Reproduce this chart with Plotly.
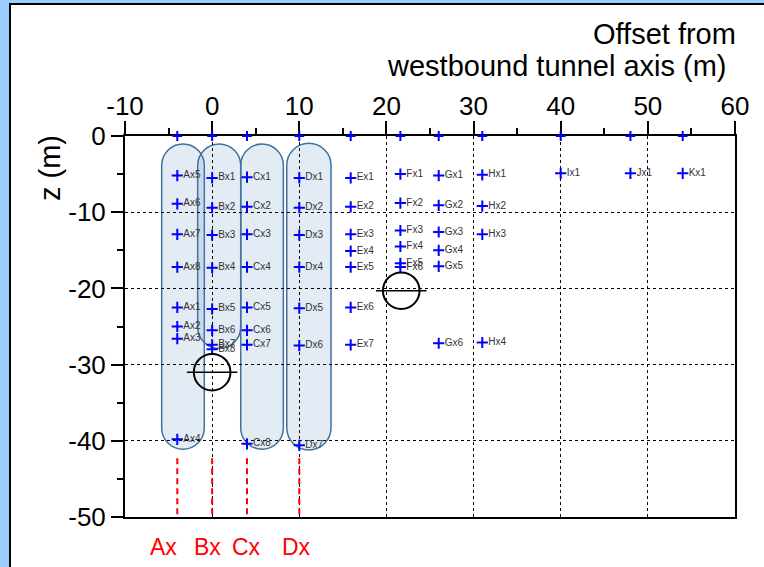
import plotly.graph_objects as go

# ---- borehole sensor layout (offset in m, depth z in m) ----
borehole_names = ["Ax", "Bx", "Cx", "Dx", "Ex", "Fx", "Gx", "Hx", "Ix", "Jx", "Kx"]
borehole_x = [-4.0, 0.0, 4.0, 10.0, 15.9, 21.6, 26.0, 31.0, 40.0, 48.0, 54.0]
sensor_ids = [
    [5, 6, 7, 8, 1, 2, 3, 4],
    [1, 2, 3, 4, 5, 6, 7, 8],
    [1, 2, 3, 4, 5, 6, 7, 8],
    [1, 2, 3, 4, 5, 6, 7],
    [1, 2, 3, 4, 5, 6, 7],
    [1, 2, 3, 4, 5, 6],
    [1, 2, 3, 4, 5, 6],
    [1, 2, 3, 4],
    [1],
    [1],
    [1],
]
sensor_z = [
    [-5.2, -8.9, -12.9, -17.2, -22.5, -25.0, -26.6, -39.8],
    [-5.5, -9.4, -13.0, -17.3, -22.7, -25.5, -27.4, -28.0],
    [-5.4, -9.3, -12.9, -17.2, -22.5, -25.5, -27.4, -40.4],
    [-5.5, -9.4, -13.0, -17.2, -22.6, -27.5, -40.6],
    [-5.5, -9.3, -12.9, -15.1, -17.2, -22.5, -27.4],
    [-5.0, -8.8, -12.4, -14.5, -16.7, -17.2],
    [-5.2, -9.1, -12.6, -15.0, -17.1, -27.2],
    [-5.1, -9.2, -12.9, -27.1],
    [-4.9],
    [-4.9],
    [-4.9],
]

# axis ticks (plain hyphen minus in the labels)
x_tick_vals = [-10, 0, 10, 20, 30, 40, 50, 60]
x_tick_text = ["-10", "0", "10", "20", "30", "40", "50", "60"]
y_tick_vals = [0, -10, -20, -30, -40, -50]
y_tick_text = ["0", "-10", "-20", "-30", "-40", "-50"]

# tunnels (centre offset, centre depth, radius along offset axis)
tunnel_x = [0.0, 21.7]
tunnel_z = [-31.0, -20.3]
tunnel_r = [2.1, 2.1]
tunnel_bar = [2.9, 2.9]

# inclinometer groups: extents of the shaded envelopes (m)
group_names = ["Ax", "Bx", "Cx", "Dx"]
group_line_x = [-4.0, 0.0, 4.0, 10.0]
group_left = [-5.79, -1.66, 3.28, 8.56]
group_right = [-0.90, 3.28, 8.17, 13.64]
group_top = [-1.05, -1.05, -1.05, -0.95]
group_bottom = [-41.1, -27.9, -41.1, -41.2]
group_line_top = -42.3

# ---- geometry of the figure ----
W, H = 764, 567
ML, MR, MT, MB = 125, 29, 136, 50
XR = [-10, 60]
YR = [-50, 0]
px_per_x = (W - ML - MR) / (XR[1] - XR[0])
px_per_y = (H - MT - MB) / (YR[1] - YR[0])
FONT = "Liberation Sans, Arial, sans-serif"
BLUE = "#0000FF"

fig = go.Figure()

# sensors with labels
for name, x, ids, zs in zip(borehole_names, borehole_x, sensor_ids, sensor_z):
    fig.add_trace(go.Scatter(
        x=[x] * len(zs), y=zs, mode="markers+text",
        text=[f"{name}{i}" for i in ids], textposition="middle right",
        textfont=dict(family=FONT, size=10, color="#333333"),
        marker=dict(symbol="cross-thin", size=8, line=dict(color=BLUE, width=2)),
        cliponaxis=False, hoverinfo="skip", showlegend=False,
    ))

# borehole heads at the surface
fig.add_trace(go.Scatter(
    x=borehole_x, y=[0] * len(borehole_x), mode="markers",
    marker=dict(symbol="cross-thin", size=7, line=dict(color=BLUE, width=2)),
    cliponaxis=False, hoverinfo="skip", showlegend=False,
))

shapes = []

# white panel framed in black over the blue page
shapes.append(dict(
    type="rect", xref="paper", yref="paper", layer="below",
    x0=(10 - ML) / (W - ML - MR), x1=1.3,
    y0=-0.4, y1=(H - MB - 4) / (H - MT - MB),
    fillcolor="white", line=dict(color="black", width=2),
))

# rounded envelopes around the inclinometer groups
k = 0.5523
for xl, xr, zt, zb in zip(group_left, group_right, group_top, group_bottom):
    rx = (xr - xl) / 2
    ry = rx * px_per_x / px_per_y
    xc = (xl + xr) / 2
    a = zt - ry
    b = zb + ry
    path = (
        f"M {xl},{b} L {xl},{a} "
        f"C {xl},{a + k * ry} {xc - k * rx},{zt} {xc},{zt} "
        f"C {xc + k * rx},{zt} {xr},{a + k * ry} {xr},{a} "
        f"L {xr},{b} "
        f"C {xr},{b - k * ry} {xc + k * rx},{zb} {xc},{zb} "
        f"C {xc - k * rx},{zb} {xl},{b - k * ry} {xl},{b} Z"
    )
    shapes.append(dict(
        type="path", xref="x", yref="y", path=path, layer="below",
        fillcolor="rgba(79,129,189,0.16)",
        line=dict(color="#41719C", width=1.5),
    ))

# tunnels
for tx, tz, tr, tb in zip(tunnel_x, tunnel_z, tunnel_r, tunnel_bar):
    ry = tr * px_per_x / px_per_y
    shapes.append(dict(
        type="circle", xref="x", yref="y",
        x0=tx - tr, x1=tx + tr, y0=tz - ry, y1=tz + ry,
        line=dict(color="black", width=2),
    ))
    shapes.append(dict(
        type="line", xref="x", yref="y",
        x0=tx - tb, x1=tx + tb, y0=tz, y1=tz,
        line=dict(color="black", width=1.5),
    ))

# red dashed group markers under the envelopes
for gx in group_line_x:
    shapes.append(dict(
        type="line", xref="x", yref="y",
        x0=gx, x1=gx, y0=group_line_top, y1=YR[0],
        line=dict(color="red", width=2, dash="6px,4px"),
    ))

annotations = []
label_shift = [-14, -5, -1, -3]
for gname, gx, sh in zip(group_names, group_line_x, label_shift):
    annotations.append(dict(
        text=gname, xref="x", yref="paper", x=gx, xshift=sh,
        y=(H - MB - 547) / (H - MT - MB), xanchor="center", yanchor="middle",
        showarrow=False, font=dict(family=FONT, size=23, color="red"),
    ))

annotations.append(dict(
    text="Offset from", xref="paper", yref="paper",
    x=(738 - ML) / (W - ML - MR), y=(H - MB - 34) / (H - MT - MB),
    xanchor="right", yanchor="middle", showarrow=False,
    font=dict(family=FONT, size=29, color="black"),
))
annotations.append(dict(
    text="westbound tunnel axis (m)", xref="paper", yref="paper",
    x=(729 - ML) / (W - ML - MR), y=(H - MB - 66) / (H - MT - MB),
    xanchor="right", yanchor="middle", showarrow=False,
    font=dict(family=FONT, size=29, color="black"),
))
annotations.append(dict(
    text="z (m)", xref="paper", yref="paper", textangle=-90,
    x=(50 - ML) / (W - ML - MR), y=(H - MB - 168) / (H - MT - MB),
    xanchor="center", yanchor="middle", showarrow=False,
    font=dict(family=FONT, size=29, color="black"),
))

axis_common = dict(
    ticks="outside", tickwidth=2, tickcolor="black",
    showline=True, linewidth=2, linecolor="black", mirror=True,
    showgrid=True, gridcolor="black", gridwidth=1, griddash="dot",
    zeroline=False, tickfont=dict(family=FONT, size=26, color="black"),
    layer="below traces",
)

fig.update_layout(
    width=W, height=H,
    margin=dict(l=ML, r=MR, t=MT, b=MB),
    paper_bgcolor="#99CCFF", plot_bgcolor="white",
    font=dict(family=FONT, color="black"),
    xaxis=dict(
        range=XR, side="top", tickmode="array",
        tickvals=x_tick_vals, ticktext=x_tick_text, ticklen=13,
        ticklabelstandoff=-4,
        minor=dict(dtick=5, tick0=-10, ticklen=6, tickwidth=1.5, ticks="outside",
                   tickcolor="black", showgrid=False),
        **axis_common,
    ),
    yaxis=dict(
        range=YR, tickmode="array",
        tickvals=y_tick_vals, ticktext=y_tick_text, ticklen=12,
        minor=dict(dtick=5, tick0=0, ticklen=6, tickwidth=1.5, ticks="outside",
                   tickcolor="black", showgrid=False),
        **axis_common,
    ),
    shapes=shapes,
    annotations=annotations,
    showlegend=False,
)

fig.write_html("out.html")
